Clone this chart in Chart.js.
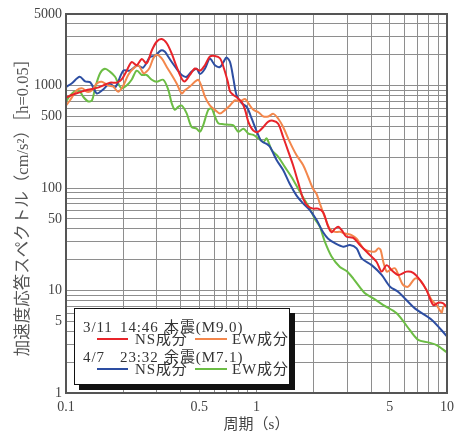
<!DOCTYPE html>
<html>
<head>
<meta charset="utf-8">
<script src="https://cdn.jsdelivr.net/npm/chart.js@4.4.0/dist/chart.umd.min.js"></script>
<style>
  body { margin: 0; background: #fff; }
  #wrap { position: relative; width: 455px; height: 436px; }
  #legendBox {
    position: absolute; left: 74px; top: 308px; width: 216px; height: 77px;
    box-sizing: border-box; border: 1.5px solid #111; background: #fff;
    box-shadow: 5px 5px 0 #111;
  }
  .lg { position: absolute; font: 15px 'Liberation Serif', 'Noto Sans CJK JP', serif; color: #333;
        line-height: 16px; white-space: pre; letter-spacing: 0.9px; }
  .sw { position: absolute; height: 2px; }
</style>
</head>
<body>
<div id="wrap">
  <canvas id="chart" width="455" height="436"></canvas>
  <div id="legendBox"></div>
</div>
<script>
// period (s) / spectral acceleration (cm/s^2)
const nsMain = [[0.100,760],[0.107,810],[0.118,860],[0.130,910],[0.145,950],[0.156,1000],[0.170,1070],[0.185,1070],[0.196,1150],[0.208,1390],[0.221,1700],[0.235,1580],[0.250,1820],[0.265,1650],[0.282,2200],[0.299,2680],[0.318,2850],[0.338,2590],[0.359,2050],[0.381,1520],[0.405,1170],[0.421,1100],[0.447,1270],[0.475,1470],[0.505,1400],[0.536,1580],[0.569,1920],[0.605,1950],[0.643,1850],[0.671,1520],[0.706,1100],[0.726,880],[0.756,810],[0.787,770],[0.837,690],[0.871,580],[0.907,440],[0.944,380],[0.98,355],[1.024,355],[1.087,395],[1.154,445],[1.22,455],[1.30,425],[1.38,315],[1.46,235],[1.555,168],[1.652,115],[1.756,79],[1.866,66],[1.983,63],[2.106,63],[2.238,58],[2.378,42],[2.48,37],[2.58,40],[2.684,42],[2.796,39],[2.971,33.5],[3.221,32.7],[3.491,27.8],[3.862,23],[4.273,19],[4.540,15.3],[4.824,17.7],[5.124,15.8],[5.553,14.2],[6.130,15.3],[6.647,14.9],[7.206,12.7],[7.805,10.1],[8.47,7.2],[9.00,7.6],[9.56,7.5],[9.96,6.9]];

const ewMain = [[0.100,640],[0.105,720],[0.114,900],[0.122,940],[0.129,870],[0.137,900],[0.145,1050],[0.154,1090],[0.167,1000],[0.177,980],[0.188,870],[0.200,1000],[0.212,1270],[0.225,1460],[0.240,1580],[0.255,1320],[0.265,1370],[0.275,1500],[0.287,1840],[0.299,2000],[0.318,1840],[0.338,1520],[0.359,1270],[0.381,1050],[0.405,840],[0.421,900],[0.447,980],[0.475,1090],[0.495,1140],[0.515,980],[0.536,780],[0.569,640],[0.605,580],[0.643,535],[0.684,580],[0.726,640],[0.771,720],[0.818,700],[0.871,740],[0.907,670],[0.963,580],[1.024,550],[1.087,500],[1.154,500],[1.226,530],[1.301,475],[1.380,395],[1.494,282],[1.620,210],[1.756,168],[1.866,129],[1.983,98],[2.065,88],[2.149,71],[2.284,52],[2.427,40],[2.579,37.4],[2.740,37.4],[2.911,36],[3.157,34.7],[3.354,32],[3.635,25.8],[3.862,24.3],[4.187,24],[4.359,25.8],[4.486,24.8],[4.632,19],[4.824,15.3],[5.022,15.8],[5.335,16.5],[5.553,14.2],[5.893,11.3],[6.253,10.9],[6.783,13.1],[7.206,12.7],[7.805,10.1],[8.30,8.1],[8.82,7.2],[9.37,6.1],[9.56,6.9],[9.96,7.2]];

const nsAfter = [[0.100,970],[0.107,1050],[0.118,1220],[0.126,1100],[0.134,1080],[0.145,840],[0.155,900],[0.170,1050],[0.181,960],[0.200,1400],[0.216,1400],[0.236,1570],[0.254,1500],[0.276,1900],[0.293,1950],[0.315,2200],[0.33,2150],[0.339,2000],[0.359,1700],[0.381,1460],[0.405,1270],[0.430,1220],[0.456,1370],[0.485,1460],[0.505,1300],[0.536,1460],[0.569,1840],[0.605,1580],[0.643,1520],[0.671,1700],[0.695,1880],[0.726,1700],[0.756,1170],[0.787,800],[0.837,670],[0.889,620],[0.944,475],[1.004,355],[1.045,300],[1.083,280],[1.131,270],[1.177,253],[1.275,188],[1.380,150],[1.494,110],[1.620,85],[1.756,71],[1.905,61],[2.065,49],[2.238,37],[2.378,32],[2.579,29],[2.853,26.8],[3.094,27.8],[3.354,25.8],[3.563,20.6],[4.022,17.7],[4.540,14.2],[5.022,10.9],[5.553,9.7],[6.783,6.7],[8.30,5.2],[9.96,3.6]];

const ewAfter = [[0.100,700],[0.105,800],[0.111,880],[0.118,880],[0.123,780],[0.131,700],[0.137,720],[0.142,940],[0.151,1320],[0.160,1460],[0.170,1370],[0.181,1220],[0.188,1050],[0.196,940],[0.208,1000],[0.221,1140],[0.235,1400],[0.250,1270],[0.265,1270],[0.282,1140],[0.299,1090],[0.324,1140],[0.345,900],[0.359,670],[0.373,580],[0.388,620],[0.405,640],[0.430,535],[0.456,395],[0.485,380],[0.505,355],[0.525,410],[0.558,580],[0.581,600],[0.605,500],[0.630,430],[0.671,420],[0.712,415],[0.756,410],[0.803,355],[0.854,380],[0.907,340],[0.963,330],[1.024,305],[1.087,282],[1.131,305],[1.201,235],[1.301,202],[1.408,161],[1.524,129],[1.652,99],[1.792,76],[1.905,63],[2.024,50],[2.149,42],[2.284,30],[2.477,21.5],[2.740,17],[2.971,15.5],[3.221,13.1],[3.709,9.4],[4.103,8.4],[4.632,7.2],[5.443,6.0],[6.385,4.1],[7.060,3.3],[7.965,3.12],[8.82,2.94],[9.96,2.5]];

const xLabels = [0.1, 0.5, 1, 5, 10];
const yLabels = [1, 5, 10, 50, 100, 500, 1000, 5000];
const eventDates = ['3/11', '4/7'];
const eventTimes = ['14:46', '23:32'];
const eventNames = ['本震(M9.0)', '余震(M7.1)'];
const compLabels = ['NS成分', 'EW成分'];

const RED = '#e8242a', ORANGE = '#f3874c', BLUE = '#2d4ea2', GREEN = '#6cbd45';

// grid lines at 1..9 x 10^n
function logGrid(min, max) {
  const out = [];
  for (let e = Math.floor(Math.log10(min)); e <= Math.ceil(Math.log10(max)); e++) {
    for (let m = 1; m < 10; m++) {
      const v = +(m * Math.pow(10, e)).toPrecision(6);
      if (v >= min - 1e-9 && v <= max + 1e-9) out.push(v);
    }
  }
  return out;
}
const isLabel = (list, v) => list.some(l => Math.abs(l - v) / l < 1e-6);

Chart.defaults.font.family = "'Liberation Serif', 'Noto Sans CJK JP', serif";
Chart.defaults.font.size = 14;
Chart.defaults.color = '#444';

const frame = {
  id: 'frame',
  afterDatasetsDraw(chart) {
    const { ctx, chartArea: a } = chart;
    ctx.save();
    ctx.strokeStyle = '#555';
    ctx.lineWidth = 2;
    ctx.strokeRect(a.left, a.top, a.right - a.left, a.bottom - a.top);
    ctx.restore();
  }
};

const line = (data, color) => ({
  data: data.map(([x, y]) => ({ x, y })),
  borderColor: color, borderWidth: 2, pointRadius: 0, tension: 0.3, fill: false
});

new Chart(document.getElementById('chart'), {
  type: 'line',
  data: {
    datasets: [line(nsMain, RED), line(ewMain, ORANGE), line(nsAfter, BLUE), line(ewAfter, GREEN)]
  },
  options: {
    responsive: false,
    animation: false,
    layout: { padding: { top: 14, right: 8, left: 0, bottom: 0 } },
    plugins: { legend: { display: false }, tooltip: { enabled: false } },
    scales: {
      x: {
        type: 'logarithmic', min: 0.1, max: 10,
        afterBuildTicks: s => { s.ticks = logGrid(0.1, 10).map(v => ({ value: v })); },
        afterFit: s => { s.height = 43; s.paddingLeft = 0; s.paddingRight = 0; },
        grid: { color: '#8e8e8e', lineWidth: 1, drawTicks: false },
        border: { display: false },
        ticks: { autoSkip: false, maxRotation: 0, padding: 6,
          callback: v => isLabel(xLabels, v) ? String(v) : '' },
        title: { display: true, text: '周期（s）', font: { size: 15 }, color: '#444', padding: { top: 0, bottom: 2 } }
      },
      y: {
        type: 'logarithmic', min: 1, max: 5000,
        afterBuildTicks: s => { s.ticks = logGrid(1, 5000).map(v => ({ value: v })); },
        afterFit: s => { s.width = 66; },
        grid: { color: '#8e8e8e', lineWidth: 1, drawTicks: false },
        border: { display: false },
        ticks: { autoSkip: false, padding: 4,
          callback: v => isLabel(yLabels, v) ? String(v) : '' },
        title: { display: true, text: '加速度応答スペクトル（cm/s²）［h=0.05］', font: { size: 16.5 }, color: '#555', padding: { top: 14, bottom: 0 } }
      }
    }
  },
  plugins: [frame]
});

// legend overlay
const wrap = document.getElementById('wrap');
function addText(txt, left, top) {
  const d = document.createElement('div');
  d.className = 'lg'; d.textContent = txt;
  d.style.left = left + 'px'; d.style.top = top + 'px';
  wrap.appendChild(d);
}
function addSwatch(color, left, top, w) {
  const d = document.createElement('div');
  d.className = 'sw'; d.style.background = color;
  d.style.left = left + 'px'; d.style.top = top + 'px'; d.style.width = w + 'px';
  wrap.appendChild(d);
}
const rows = [[RED, ORANGE], [BLUE, GREEN]];
eventDates.forEach((date, i) => {
  const top = 319 + i * 30;
  addText(date, 83, top);
  addText(eventTimes[i], 120, top);
  addText(eventNames[i], 164, top);
  addSwatch(rows[i][0], 97, top + 19, 31);
  addText(compLabels[0], 135, top + 12);
  addSwatch(rows[i][1], 195, top + 19, 32);
  addText(compLabels[1], 232, top + 12);
});
</script>
</body>
</html>
